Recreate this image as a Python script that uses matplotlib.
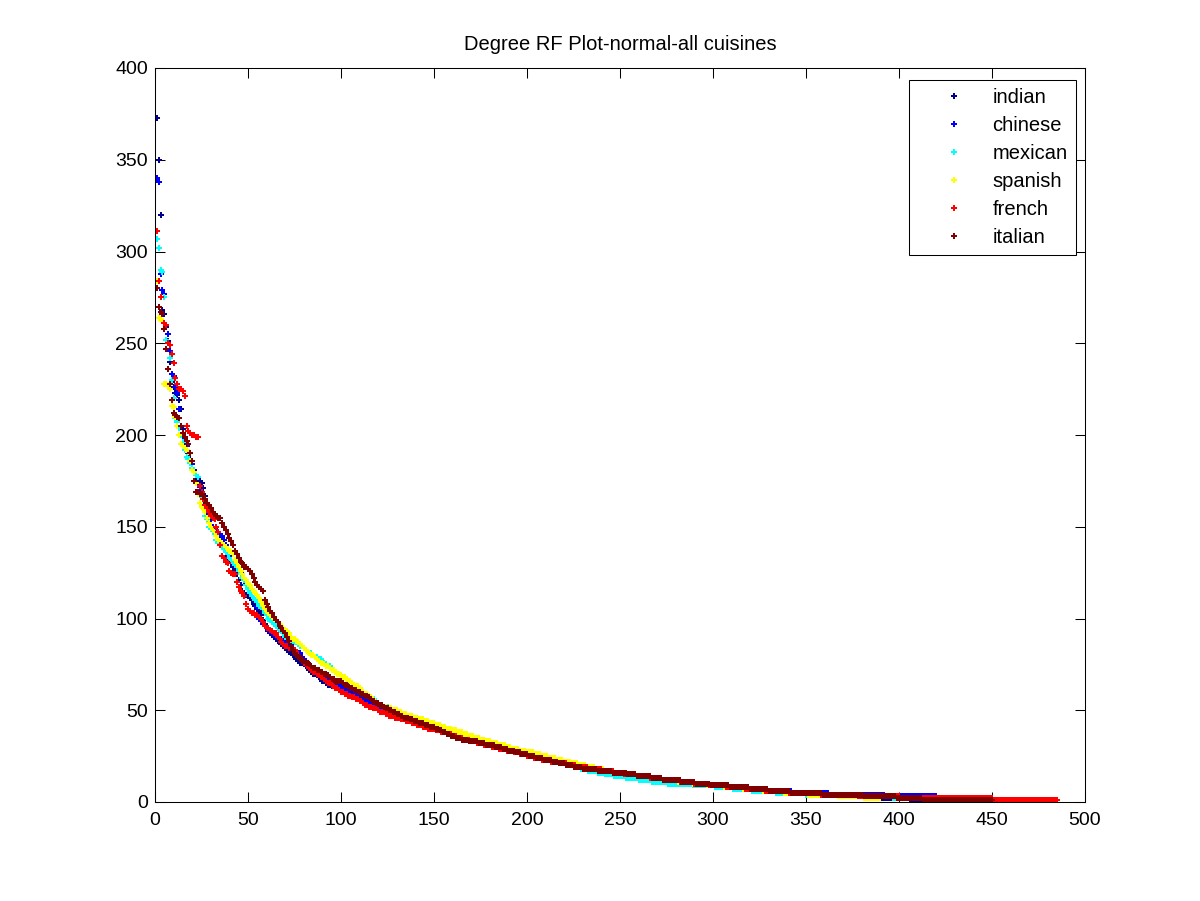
import numpy as np
import matplotlib
matplotlib.use("Agg")
import matplotlib.pyplot as plt

plt.rcParams['font.family'] = ['Liberation Sans', 'DejaVu Sans']

cuisines = ["indian", "chinese", "mexican", "spanish", "french", "italian"]
colors = ["#00008f", "#0000ff", "#00ffff", "#ffff00", "#ff0000", "#800000"]

# Sorted node degrees (rank 1..120) for each cuisine
indian_head = [373, 350, 320, 268, 266, 259, 251, 240, 229, 226,
               223, 222, 219, 214, 203, 197, 192, 188, 185, 184,
               181, 178, 176, 175, 174, 171, 167, 163, 158, 154,
               150, 148, 146, 144, 142, 140, 138, 136, 134, 132,
               130, 128, 126, 124, 121, 118, 115, 114, 113, 112,
               111, 110, 108, 107, 105, 104, 102, 99, 97, 95,
               93, 92, 91, 90, 89, 88, 87, 86, 85, 84,
               83, 82, 81, 80, 79, 78, 77, 76, 76, 75,
               74, 73, 72, 71, 70, 70, 69, 68, 67, 66,
               66, 65, 64, 64, 63, 63, 62, 62, 61, 61,
               60, 60, 59, 59, 58, 57, 57, 56, 56, 55,
               55, 54, 54, 53, 53, 52, 52, 51, 51, 50]
chinese_head = [340, 338, 288, 279, 277, 260, 255, 246, 233, 232,
                226, 223, 214, 200, 199, 196, 194, 190, 186, 184,
                175, 174, 173, 170, 166, 162, 158, 156, 153, 151,
                150, 149, 148, 147, 146, 145, 143, 140, 137, 134,
                132, 130, 129, 128, 126, 125, 124, 122, 119, 116,
                114, 112, 111, 110, 106, 100, 99, 97, 96, 95,
                94, 93, 92, 91, 90, 90, 89, 89, 88, 88,
                87, 87, 86, 84, 83, 82, 81, 81, 79, 78,
                77, 76, 75, 74, 73, 72, 71, 70, 70, 69,
                68, 68, 67, 67, 66, 65, 64, 64, 63, 63,
                62, 61, 61, 60, 60, 59, 59, 58, 58, 57,
                56, 56, 55, 55, 54, 53, 53, 52, 52, 51]
mexican_head = [307, 302, 290, 289, 275, 252, 250, 242, 230, 220,
                209, 207, 204, 200, 196, 192, 188, 187, 185, 182,
                180, 178, 177, 172, 166, 160, 156, 154, 150, 149,
                148, 146, 143, 141, 140, 139, 138, 136, 135, 133,
                132, 130, 129, 128, 126, 124, 122, 121, 118, 116,
                114, 112, 111, 110, 109, 107, 106, 105, 103, 102,
                100, 99, 98, 97, 96, 95, 94, 93, 92, 90,
                89, 89, 88, 88, 87, 87, 86, 85, 85, 84,
                83, 82, 81, 81, 80, 79, 79, 78, 78, 77,
                76, 75, 74, 74, 73, 72, 71, 70, 70, 69,
                68, 68, 67, 66, 66, 65, 64, 63, 63, 62,
                61, 60, 59, 59, 58, 57, 56, 56, 55, 54]
spanish_head = [284, 264, 263, 262, 228, 228, 227, 225, 216, 215,
                210, 205, 200, 195, 194, 193, 192, 191, 186, 181,
                180, 174, 168, 163, 161, 160, 158, 155, 152, 150,
                148, 147, 145, 143, 142, 141, 140, 139, 138, 137,
                136, 135, 132, 130, 128, 126, 124, 122, 121, 119,
                118, 116, 115, 114, 113, 111, 109, 107, 105, 104,
                103, 102, 101, 100, 99, 98, 97, 96, 95, 94,
                93, 92, 90, 89, 89, 88, 87, 86, 85, 84,
                83, 82, 81, 80, 80, 79, 78, 77, 76, 76,
                75, 74, 74, 73, 72, 72, 71, 70, 70, 69,
                68, 68, 67, 66, 66, 65, 64, 63, 63, 62,
                61, 60, 59, 59, 58, 57, 56, 55, 54, 54]
french_head = [311, 284, 275, 266, 261, 260, 250, 249, 244, 239,
               231, 228, 225, 225, 224, 221, 205, 202, 201, 200,
               200, 199, 199, 172, 169, 165, 162, 160, 158, 156,
               155, 154, 150, 147, 140, 134, 133, 131, 130, 126,
               125, 124, 124, 120, 117, 115, 114, 112, 108, 105,
               104, 103, 103, 102, 102, 101, 100, 98, 96, 95,
               95, 94, 93, 92, 92, 90, 89, 87, 86, 85,
               85, 84, 84, 84, 83, 82, 80, 79, 77, 76,
               75, 74, 73, 72, 71, 71, 70, 69, 68, 68,
               67, 66, 65, 65, 64, 63, 62, 62, 61, 60,
               60, 59, 59, 58, 58, 57, 57, 56, 56, 55,
               55, 54, 53, 53, 52, 52, 51, 51, 51, 50]
italian_head = [280, 270, 267, 266, 258, 247, 236, 228, 219, 212,
                211, 210, 209, 205, 201, 199, 197, 195, 190, 186,
                175, 169, 169, 168, 168, 167, 165, 163, 162, 160,
                158, 157, 156, 155, 155, 152, 150, 148, 146, 144,
                142, 140, 137, 135, 133, 131, 130, 128, 128, 127,
                126, 124, 122, 120, 118, 117, 116, 115, 110, 108,
                106, 104, 103, 101, 99, 98, 96, 95, 93, 92,
                90, 88, 85, 83, 81, 80, 79, 79, 77, 77,
                76, 76, 75, 74, 73, 73, 72, 72, 71, 71,
                70, 70, 69, 68, 67, 67, 66, 66, 66, 66,
                65, 64, 64, 63, 62, 62, 61, 61, 60, 60,
                59, 59, 58, 58, 57, 56, 55, 55, 54, 54]

# Tail: number of nodes at each degree, from the given top degree downwards
indian_tail_top = 49
indian_tail_counts = [3, 3, 2, 3, 3, 3, 3, 3, 3, 4, 3, 3, 3, 3, 3, 4, 3, 4, 4, 5,
                      4, 4, 4, 4, 4, 4, 4, 4, 5, 5, 5, 6, 6, 6, 7, 7, 7, 8, 8, 9,
                      9, 10, 11, 13, 16, 18, 17, 15, 10]
chinese_tail_top = 50
chinese_tail_counts = [4, 3, 3, 3, 3, 3, 3, 2, 3, 3, 3, 2, 3, 3, 3, 3, 4, 4, 3, 4,
                       4, 4, 3, 4, 4, 4, 4, 4, 4, 4, 5, 5, 6, 6, 6, 7, 7, 7, 8, 8,
                       9, 10, 11, 12, 14, 20, 30, 28, 21]
mexican_tail_top = 53
mexican_tail_counts = [2, 3, 2, 2, 2, 2, 2, 3, 2, 3, 3, 2, 3, 3, 3, 3, 3, 3, 3, 3,
                       3, 3, 4, 3, 4, 4, 3, 4, 4, 4, 4, 4, 4, 4, 4, 4, 5, 4, 5, 6,
                       7, 7, 9, 13, 12, 10, 10, 13, 16, 21, 26, 33]
spanish_tail_top = 53
spanish_tail_counts = [2, 2, 3, 3, 2, 3, 3, 3, 3, 3, 3, 3, 3, 3, 3, 3, 3, 3, 3, 3,
                       3, 4, 4, 3, 4, 4, 4, 4, 4, 4, 4, 4, 4, 4, 5, 5, 5, 6, 6, 7,
                       7, 8, 8, 8, 9, 10, 11, 11, 13, 16, 14, 10]
french_tail_top = 49
french_tail_counts = [3, 2, 3, 3, 3, 3, 3, 3, 3, 4, 3, 3, 3, 3, 3, 4, 3, 4, 4, 4,
                      4, 4, 3, 4, 4, 4, 5, 4, 5, 5, 6, 8, 6, 5, 7, 7, 7, 9, 8, 8,
                      9, 10, 11, 13, 17, 20, 23, 50, 35]
italian_tail_top = 53
italian_tail_counts = [2, 1, 2, 2, 2, 2, 2, 3, 2, 3, 3, 3, 3, 2, 2, 2, 2, 3, 3, 4,
                       5, 4, 5, 4, 3, 4, 3, 4, 4, 4, 5, 3, 4, 4, 5, 8, 8, 8, 5, 8,
                       6, 10, 8, 8, 10, 11, 10, 12, 17, 22, 18, 14, 38]

heads = [indian_head, chinese_head, mexican_head, spanish_head, french_head, italian_head]
tops = [indian_tail_top, chinese_tail_top, mexican_tail_top, spanish_tail_top,
        french_tail_top, italian_tail_top]
tails = [indian_tail_counts, chinese_tail_counts, mexican_tail_counts,
         spanish_tail_counts, french_tail_counts, italian_tail_counts]

fig = plt.figure(figsize=(12, 9.01), dpi=100)
fig.patch.set_facecolor('white')
ax = fig.add_axes([155 / 1200, (901 - 802) / 901, 930 / 1200, (802 - 68) / 901])

for name, col, head, top, cnt in zip(cuisines, colors, heads, tops, tails):
    degs = np.arange(top, top - len(cnt), -1)
    values = np.concatenate([np.array(head), np.repeat(degs, cnt)])
    ranks = np.arange(1, len(values) + 1)
    ax.plot(ranks, values, linestyle='none', marker='P', markersize=5,
            markeredgewidth=0, color=col, label=name)

ax.set_xlim(0, 500)
ax.set_ylim(0, 400)
ax.set_xticks(np.arange(0, 501, 50))
ax.set_yticks(np.arange(0, 401, 50))
ax.tick_params(direction='in', length=7, width=0.75, top=True, right=True,
               labelsize=14, colors='black')
ax.tick_params(axis='x', pad=7)
ax.tick_params(axis='y', pad=5)
for s in ax.spines.values():
    s.set_linewidth(0.75)
    s.set_color('black')

ax.set_title("Degree RF Plot-normal-all cuisines", fontsize=14.5, pad=13)

leg = ax.legend(loc='upper right', bbox_to_anchor=((1076 - 155) / 930, (802 - 80) / 734),
                borderaxespad=0, fontsize=14.5, frameon=True, fancybox=False,
                framealpha=1, edgecolor='black', handlelength=3.6, handletextpad=0.1,
                labelspacing=0.44, borderpad=0.42, markerscale=0.75)
leg.get_frame().set_linewidth(0.75)

fig.savefig("out.png", dpi=100, facecolor='white')
